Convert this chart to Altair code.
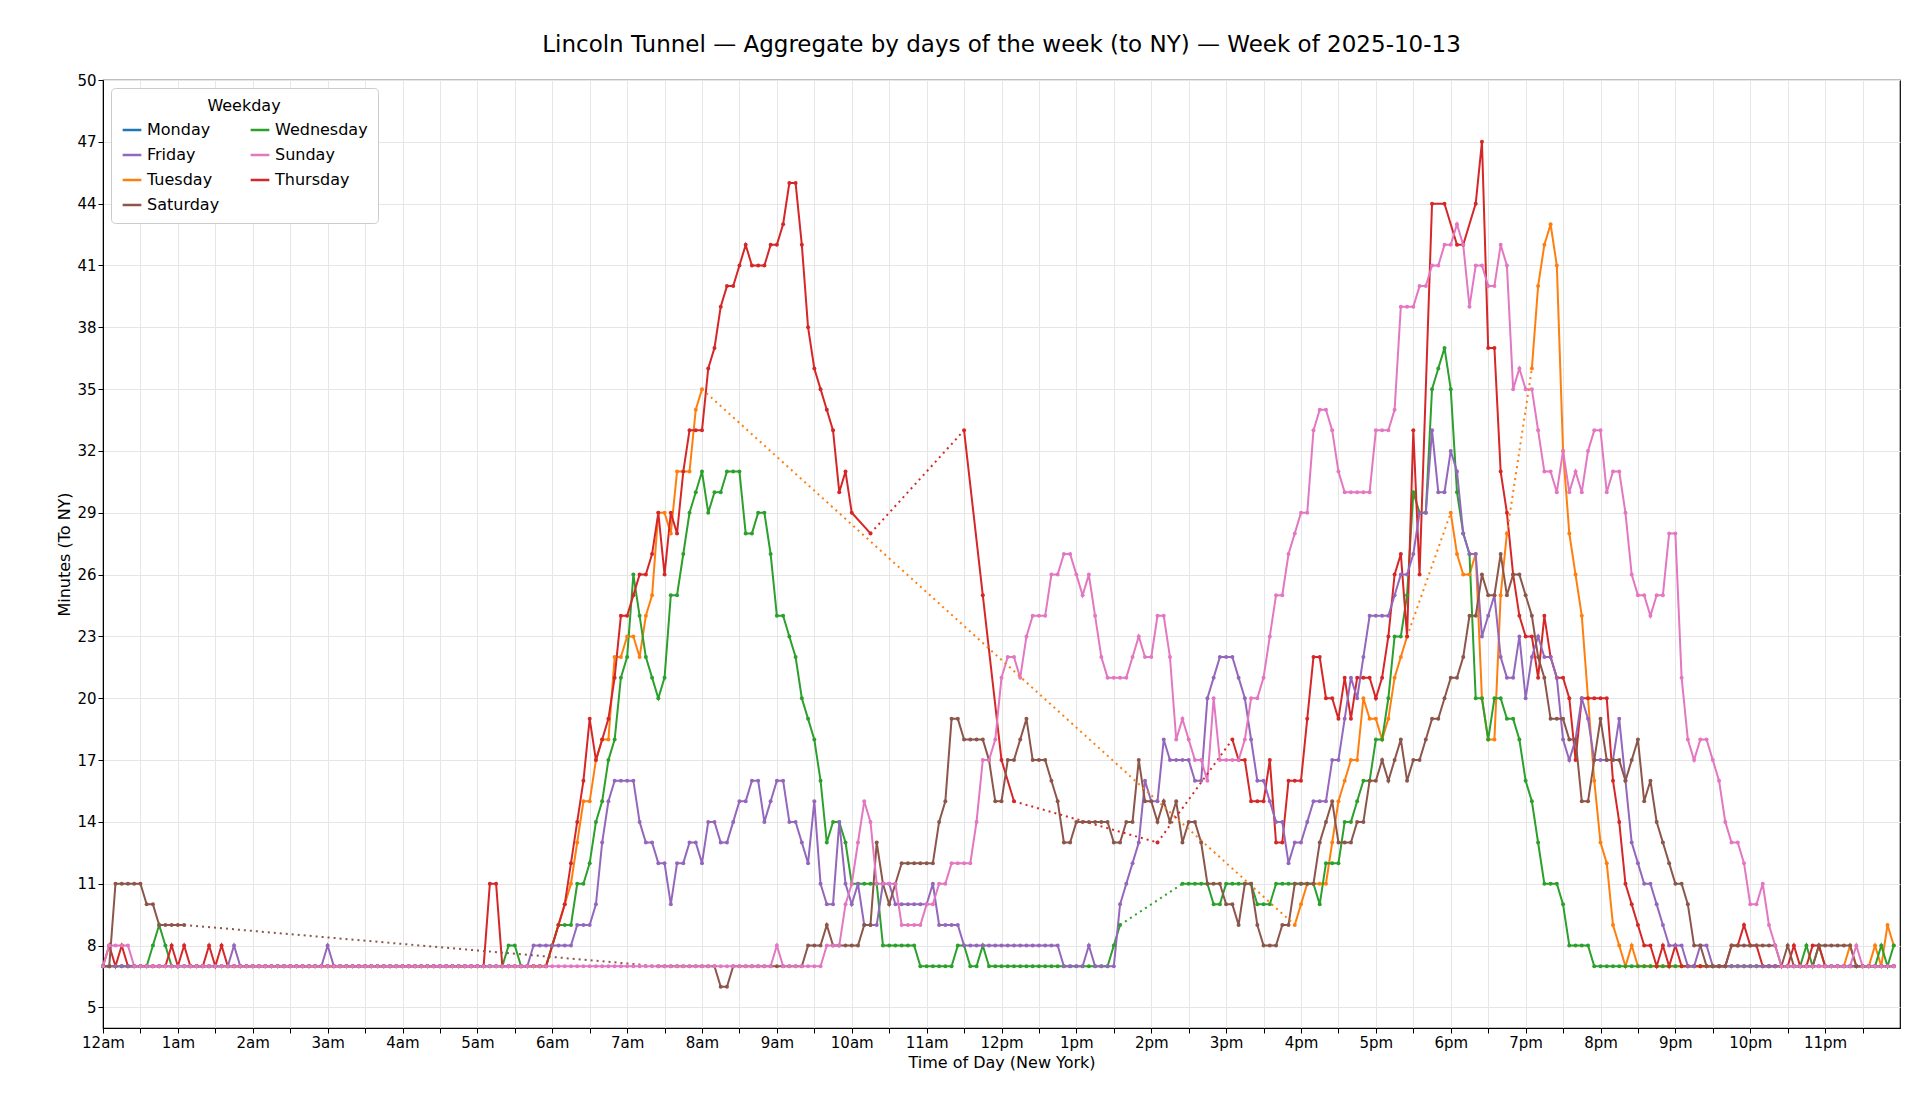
import pandas as pd
import altair as alt

# --- data: 5-minute samples, (start time, values) runs ---
DAYS = ["Monday", "Tuesday", "Wednesday", "Thursday", "Friday", "Saturday", "Sunday"]
COLORS = ["#1f77b4", "#ff7f0e", "#2ca02c", "#d62728", "#9467bd", "#8c564b", "#e377c2"]

monday = []

tuesday = [
    ("00:00", [7] * 72),
    ("06:00", [8, 9, 10, 11, 13, 15, 15, 17, 18, 18, 22, 22, 23, 23, 22, 24, 25, 29, 29, 28, 31, 31, 31, 34, 35]),
    ("15:55", [9, 10, 11, 11, 11, 11, 13, 15, 16, 17, 17, 20, 19, 19, 18, 19, 21, 22, 23]),
    ("18:00", [29, 27, 26, 26, 27, 20, 18, 18, 25, 28]),
    ("19:05", [36, 40, 42, 43, 41, 32, 28, 26, 24, 20, 16, 13, 12, 9, 8, 7, 8, 7]),
    ("20:35", [7] * 33 + [8, 7, 7, 7, 8, 7, 9, 8]),
]

wednesday = [
    ("00:00", [7] * 8 + [8, 9, 8] + [7] * 54 + [8, 8] + [7] * 5),
    ("06:00", [8, 9, 9, 9, 11, 11, 12, 14, 15, 17, 18, 21, 22, 26, 24, 22, 21, 20, 21, 25, 25, 27, 29, 30,
               31, 29, 30, 30, 31, 31, 31, 28, 28, 29, 29, 27, 24, 24, 23, 22, 20, 19, 18, 16, 13, 14, 14, 13]),
    ("10:00", [11] * 5 + [8] * 6 + [7] * 6 + [8, 8, 7, 7, 8] + [7] * 20 + [8, 9]),
    ("14:25", [11, 11, 11, 11, 11, 10, 10, 11, 11, 11, 11, 11, 10, 10, 10, 11, 11, 11, 11, 11, 11, 11, 10,
               12, 12, 12, 14, 14, 15, 16, 16, 18, 18, 20, 23, 23, 25, 30, 29, 29, 35, 36, 37, 35, 30, 28, 27,
               20, 20, 18, 20, 20, 19, 19, 18, 16, 15, 13, 11, 11, 11, 10, 8, 8, 8, 8]),
    ("19:55", [7] * 34 + [8, 7, 8] + [7] * 9 + [8, 7, 8]),
]

thursday = [
    ("00:00", [7, 8, 7, 8] + [7] * 7 + [8, 7, 8] + [7] * 3 + [8, 7, 8] + [7] * 42 + [11, 11] + [7] * 8 + [8]),
    ("06:05", [9, 10, 12, 14, 16, 19, 17, 18, 19, 21, 24, 24, 25, 26, 26, 27, 29, 26, 29, 28, 31, 33, 33, 33,
               36, 37, 39, 40, 40, 41, 42, 41, 41, 41, 42, 42, 43, 45, 45, 42, 38, 36, 35, 34, 33, 30, 31, 29]),
    ("10:15", [28]),
    ("11:30", [33]),
    ("11:45", [25]),
    ("12:00", [17]),
    ("12:10", [15]),
    ("14:05", [13]),
    ("15:05", [18, 17, 17, 15, 15, 15, 17, 13, 13, 16, 16, 16, 19, 22, 22, 20, 20, 19, 21, 19, 21, 21, 21, 20,
               21, 23, 26, 27, 23, 33, 26]),
    ("17:45", [44]),
    ("17:55", [44]),
    ("18:05", [42, 42]),
    ("18:20", [44, 47, 37, 37, 31, 29, 26, 24, 23, 23, 21, 24, 22, 21, 21, 20, 17, 20, 20, 20, 20, 20, 16, 14,
               11, 10, 9, 8, 8, 7, 8, 7, 8]),
    ("21:05", [7] * 8 + [8, 8, 9, 8, 8] + [7] * 5 + [8, 7, 7, 8, 8] + [7] * 12),
]

friday = [
    ("00:00", [7] * 21 + [8] + [7] * 14 + [8] + [7] * 32 + [8] * 7),
    ("06:20", [9, 9, 9, 10, 13, 15, 16, 16, 16, 16, 14, 13, 13, 12, 12, 10, 12, 12, 13, 13, 12, 14, 14, 13,
               13, 14, 15, 15, 16, 16, 14, 15, 16, 16, 14, 14, 13, 12, 15, 11, 10, 10, 14]),
    ("09:55", [11, 10, 11, 9, 9, 9, 11, 11, 10, 10, 10, 10, 10, 10, 11, 9, 9, 9, 9] + [8] * 16
              + [7, 7, 7, 7, 8, 7, 7, 7, 7]),
    ("13:35", [10, 11, 12, 13, 16, 15, 15, 18, 17, 17, 17, 17, 16, 16, 20, 21, 22, 22, 22, 21, 20, 18, 16, 16,
               15, 14, 14, 12, 13, 13, 14, 15, 15, 15, 17, 17, 19, 21, 20, 22, 24, 24, 24, 24, 25, 26, 26, 27, 29]),
    ("17:40", [29, 33, 30, 30, 32, 31, 28, 27, 27, 23, 24, 25, 22, 21, 21, 23, 20, 22, 23, 22, 22, 21, 18, 17,
               18, 20, 19, 17, 17, 17, 17, 19, 16, 13, 12, 11, 11, 10, 9, 8, 8, 8, 7, 7, 8, 8]),
    ("21:30", [7] * 30),
]

saturday = [
    ("00:00", [7, 7, 11, 11, 11, 11, 11, 10, 10, 9, 9, 9, 9, 9]),
    ("07:25", [7] * 10 + [6, 6] + [7] * 12),
    ("09:25", [8, 8, 8, 9, 8, 8, 8, 8, 8, 9, 9, 13, 11, 10, 11, 12, 12, 12, 12, 12, 12, 14, 15, 19, 19, 18, 18,
               18, 18, 17, 15, 15, 17, 17, 18, 19, 17, 17, 17, 16, 15, 13, 13, 14, 14, 14, 14, 14, 14, 13, 13, 14, 14]),
    ("13:50", [17, 15, 15, 14, 15, 14, 15, 13, 14, 14, 13, 11, 11, 11, 10, 10, 9, 11, 11, 9, 8, 8, 8, 9, 9, 11,
               11, 11, 11, 13, 14, 15, 13, 13, 13, 14, 14, 16, 16, 17, 16, 17, 18, 16, 17, 17, 18]),
    ("17:45", [19, 19, 20, 21, 21, 22, 24, 24, 26, 25, 25, 27, 25, 26, 26, 25, 24, 22, 21, 19, 19, 19, 18, 18,
               15, 15, 17, 19, 17, 17, 17, 16, 17, 18, 15, 16, 14]),
    ("20:50", [13, 12, 11, 11, 10, 8, 8, 7, 7, 7, 7] + [8] * 8 + [7, 8, 7, 7, 7, 7, 8, 8, 8, 8, 8, 8] + [7] * 7),
]

sunday = [
    ("00:00", [7, 8, 8, 8, 8] + [7] * 103 + [8] + [7] * 7),
    ("09:40", [8, 8, 8, 10, 11, 13, 15, 14, 11, 11, 11, 11, 9, 9, 9, 9, 10, 10, 11, 11, 12, 12, 12, 12]),
    ("11:40", [14, 17, 17, 18, 21, 22, 22, 21, 23, 24, 24, 24, 26, 26, 27, 27, 26, 25, 26, 24, 22, 21, 21, 21]),
    ("13:40", [21, 22, 23, 22, 22, 24, 24, 22, 18, 19, 18, 17, 17, 16, 20, 17, 17, 17, 17, 18, 20, 20, 21, 23,
               25, 25, 27, 28, 29, 29, 33, 34, 34, 33, 31, 30, 30, 30, 30, 30, 33, 33, 33, 34]),
    ("17:20", [39, 39, 39, 40, 40, 41, 41, 42, 42, 43, 42, 39, 41, 41, 40, 40, 42, 41, 35, 36, 35, 35, 33, 31,
               31, 30, 32, 30, 31, 30, 32, 33, 33, 30, 31, 31, 29, 26, 25, 25, 24]),
    ("20:45", [25, 25, 28, 28, 21, 18, 17, 18, 18, 17, 16, 14, 13, 13, 12, 10, 10, 11, 9, 8]),
    ("22:25", [7] * 12 + [8] + [7] * 6),
]

SERIES = [monday, tuesday, wednesday, thursday, friday, saturday, sunday]


def to_minutes(hhmm):
    h, m = hhmm.split(":")
    return int(h) * 60 + int(m)


rows, links = [], []
for day, segs in zip(DAYS, SERIES):
    pts = {}
    for start, vals in segs:
        t0 = to_minutes(start)
        for i, v in enumerate(vals):
            pts[t0 + 5 * i] = v
    times = sorted(pts)
    seg = 0
    for j, t in enumerate(times):
        if j > 0 and t - times[j - 1] > 15:
            seg += 1
            link = f"{day}-{seg}"
            links.append({"day": day, "link": link, "h": times[j - 1] / 60, "v": pts[times[j - 1]]})
            links.append({"day": day, "link": link, "h": t / 60, "v": pts[t]})
        rows.append({"day": day, "seg": f"{day}-{seg}", "h": t / 60, "v": pts[t]})

df = pd.DataFrame(rows)
df_links = pd.DataFrame(links)

# legend is filled row by row; this order gives matplotlib's column layout
legend_order = ["Monday", "Friday", "Tuesday", "Saturday", "Wednesday", "Sunday", "Thursday"]
color_scale = alt.Scale(domain=legend_order, range=[COLORS[DAYS.index(d)] for d in legend_order])

legend = alt.Legend(orient="top-left", columns=2, symbolType="stroke", symbolDash=[1, 0],
                    symbolStrokeWidth=2.5, symbolSize=350, labelFontSize=16,
                    titleFontSize=16, titleFontWeight="normal", titleAnchor="middle",
                    strokeColor="#cccccc", fillColor="white", padding=10,
                    cornerRadius=4, columnPadding=25, rowPadding=6, offset=8)
color_enc = alt.Color("day:N", scale=color_scale, title="Weekday", legend=legend)

x_enc = alt.X("h:Q", title="Time of Day (New York)",
              scale=alt.Scale(domain=[0, 24], nice=False, zero=False),
              axis=alt.Axis(values=[i / 2 for i in range(48)], labelFlush=False,
                            labelExpr="datum.value % 1 != 0 ? '' : (datum.value == 0 ? '12am' : datum.value < 12 ? datum.value + 'am' : datum.value == 12 ? '12pm' : (datum.value - 12) + 'pm')"))
y_enc = alt.Y("v:Q", title="Minutes (To NY)",
              scale=alt.Scale(domain=[4, 50], nice=False, zero=False),
              axis=alt.Axis(values=list(range(5, 51, 3))))

gaps = alt.Chart(df_links).mark_line(strokeWidth=2, strokeDash=[2, 4]).encode(
    x=x_enc, y=y_enc, detail="link:N", color=color_enc,
)

lines = alt.Chart(df).mark_line(strokeWidth=2).encode(
    x=x_enc, y=y_enc, detail="seg:N", color=color_enc,
)

dots = alt.Chart(df).mark_circle(size=16, opacity=1).encode(
    x=x_enc, y=y_enc, color=color_enc,
)

chart = (lines + gaps + dots).properties(
    width=1797, height=948,
    padding={"left": 48, "top": 26, "right": 10, "bottom": 10},
    title=alt.TitleParams("Lincoln Tunnel — Aggregate by days of the week (to NY) — Week of 2025-10-13",
                          fontSize=23, fontWeight="normal", offset=16),
).configure(
    font="DejaVu Sans",
).configure_axis(
    labelFontSize=15, titleFontSize=16, titleFontWeight="normal",
    gridColor="#e6e6e6", domainColor="black", tickColor="black", labelColor="black",
).configure_view(stroke="black", strokeWidth=1.2)

chart.save("out.html", embed_options={"renderer": "svg", "actions": False})
